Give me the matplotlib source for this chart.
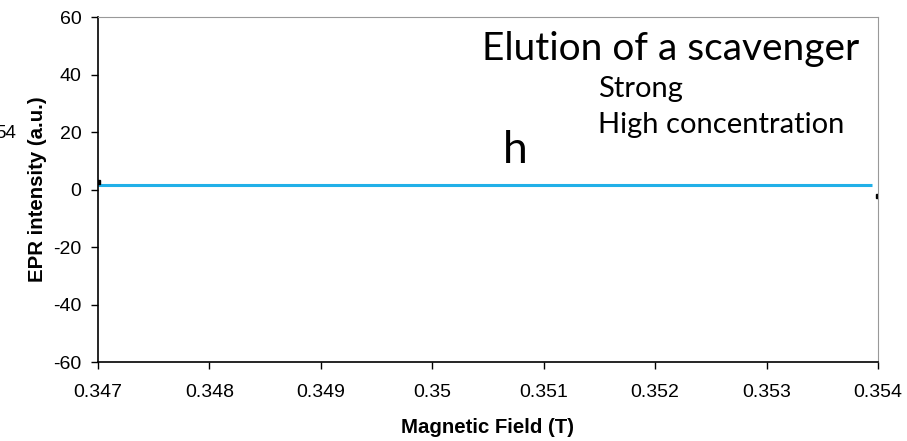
import matplotlib.pyplot as plt

# data
fieldRange = [0.347, 0.35395]
intensity = [1.6, 1.6]
markerField = [0.347, 0.354]
markerIntensity = [2.6, -2.3]
xTicks = [0.347, 0.348, 0.349, 0.35, 0.351, 0.352, 0.353, 0.354]
xTickLabels = ['0.347', '0.348', '0.349', '0.35', '0.351', '0.352', '0.353', '0.354']
yTicks = [-60, -40, -20, 0, 20, 40, 60]

plt.rcParams['font.family'] = ['Liberation Sans', 'DejaVu Sans']
plt.rcParams['axes.unicode_minus'] = False

fig = plt.figure(figsize=(9.07, 4.41), dpi=100)
ax = fig.add_axes([0.108, 0.179, 0.860, 0.782])

ax.plot(fieldRange, intensity, color='#22b0e8', linewidth=2.2, solid_capstyle='butt')
ax.plot(markerField, markerIntensity, linestyle='none', marker='s', markersize=3, color='black')

ax.set_xlim(0.347, 0.354)
ax.set_ylim(-60, 60)
ax.set_xticks(xTicks)
ax.set_xticklabels(xTickLabels)
ax.set_yticks(yTicks)
ax.tick_params(direction='out', length=5, width=1, labelsize=14, colors='black')
ax.tick_params(axis='x', pad=11)
ax.tick_params(axis='y', pad=7)

for side in ['top', 'right']:
    ax.spines[side].set_color('#999999')
for side in ['left', 'bottom']:
    ax.spines[side].set_color('black')
    ax.spines[side].set_linewidth(1.2)

ax.set_xlabel('Magnetic Field (T)', fontsize=14.7, fontweight='bold', labelpad=12)
ax.set_ylabel('EPR intensity (a.u.)', fontsize=14.7, fontweight='bold', labelpad=4)

textFamily = ['Lato', 'DejaVu Sans']
fig.text(0.531, 0.864, 'Elution of a scavenger', fontsize=28, family=textFamily, va='baseline')
fig.text(0.659, 0.780, 'Strong', fontsize=21, family=textFamily, va='baseline')
fig.text(0.659, 0.698, 'High concentration', fontsize=21, family=textFamily, va='baseline')
fig.text(0.5546, 0.630, 'h', fontsize=32, family=textFamily, va='baseline')
fig.text(0.018, 0.697, '54', fontsize=13.5, ha='right', va='center')

fig.savefig('out.png', dpi=100)
